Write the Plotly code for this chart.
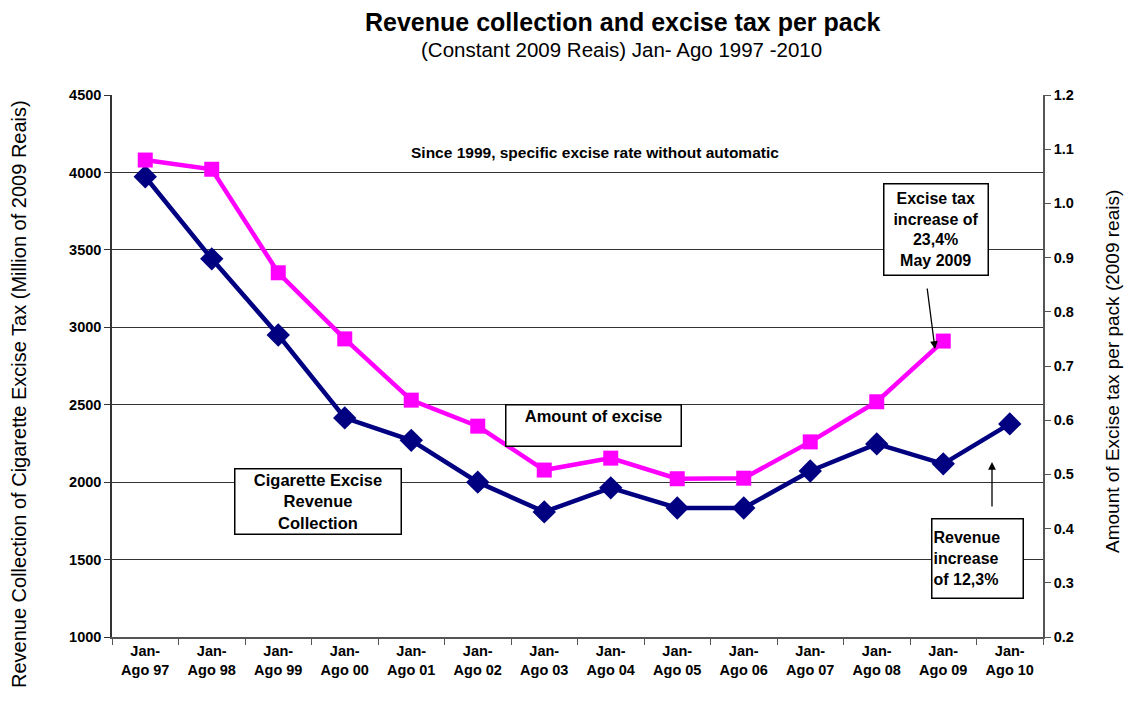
import plotly.graph_objects as go

categories = ["Jan-<br>Ago 97", "Jan-<br>Ago 98", "Jan-<br>Ago 99", "Jan-<br>Ago 00", "Jan-<br>Ago 01",
              "Jan-<br>Ago 02", "Jan-<br>Ago 03", "Jan-<br>Ago 04", "Jan-<br>Ago 05", "Jan-<br>Ago 06",
              "Jan-<br>Ago 07", "Jan-<br>Ago 08", "Jan-<br>Ago 09", "Jan-<br>Ago 10"]
revenue = [3972, 3442, 2950, 2415, 2270, 2000, 1808, 1963, 1833, 1833, 2072, 2247, 2118, 2376]
excise_per_pack = [1.080, 1.063, 0.872, 0.750, 0.637, 0.589, 0.508, 0.530, 0.492, 0.493, 0.560, 0.634, 0.746, None]

left_ticks = [1000, 1500, 2000, 2500, 3000, 3500, 4000, 4500]
right_ticks = [0.2, 0.3, 0.4, 0.5, 0.6, 0.7, 0.8, 0.9, 1.0, 1.1, 1.2]
right_tick_text = ["0.2", "0.3", "0.4", "0.5", "0.6", "0.7", "0.8", "0.9", "1.0", "1.1", "1.2"]

FONT = "Liberation Sans, Arial, sans-serif"
NAVY = "#000080"
MAGENTA = "#FF00FF"

fig = go.Figure()
fig.add_trace(go.Scatter(
    x=categories, y=revenue, mode="lines+markers",
    line=dict(color=NAVY, width=4.5),
    marker=dict(symbol="diamond", size=18, color=NAVY),
    name="Cigarette Excise Revenue Collection", yaxis="y"))
fig.add_trace(go.Scatter(
    x=categories, y=excise_per_pack, mode="lines+markers",
    line=dict(color=MAGENTA, width=4.5),
    marker=dict(symbol="square", size=15, color=MAGENTA),
    name="Amount of excise", yaxis="y2", connectgaps=False))

# page is shown with an 8px body margin; figure coords = screen coords - 8
OFF = 8
W, H = 1133 - OFF, 701 - OFF
PX0, PX1, PY0, PY1 = 112, 1043, 95, 637  # plot area in screen pixels
L, R, T, B = PX0 - OFF, W - (PX1 - OFF), PY0 - OFF, H - (PY1 - OFF)
PW = PX1 - PX0
PH = PY1 - PY0

def px(x):
    return (x - PX0) / PW

def py(y):
    return 1 - (y - PY0) / PH

annotations = [
    dict(text="<b>Revenue collection and excise tax per pack</b>", x=px(623), y=py(22),
         xref="paper", yref="paper", xanchor="center", yanchor="middle", showarrow=False,
         font=dict(size=25, family=FONT, color="black")),
    dict(text="(Constant 2009 Reais) Jan- Ago 1997 -2010", x=px(621), y=py(49),
         xref="paper", yref="paper", xanchor="center", yanchor="middle", showarrow=False,
         font=dict(size=20.5, family=FONT, color="black")),
    dict(text="Revenue Collection of Cigarette Excise Tax (Million of 2009 Reais)", x=px(19), y=py(394),
         xref="paper", yref="paper", xanchor="center", yanchor="middle", showarrow=False, textangle=-90,
         font=dict(size=20, family=FONT, color="black")),
    dict(text="Amount of Excise tax per pack (2009 reais)", x=px(1112), y=py(372),
         xref="paper", yref="paper", xanchor="center", yanchor="middle", showarrow=False, textangle=-90,
         font=dict(size=19, family=FONT, color="black")),
    dict(text="<b>Since 1999, specific excise rate without automatic</b>", x=px(595), y=py(152),
         xref="paper", yref="paper", xanchor="center", yanchor="middle", showarrow=False,
         font=dict(size=15.5, family=FONT, color="black")),
    dict(text="<b>Excise tax<br>increase of<br>23,4%<br>May 2009</b>", x=px(935.5), y=py(229),
         xref="paper", yref="paper", xanchor="center", yanchor="middle", showarrow=False,
         width=101, height=88, borderpad=1, bordercolor="black", borderwidth=1.5, bgcolor="white",
         font=dict(size=16, family=FONT, color="black")),
    dict(text="<b>Amount of excise</b>", x=px(593), y=py(425),
         xref="paper", yref="paper", xanchor="center", yanchor="middle", showarrow=False,
         width=172, height=38, borderpad=1, bordercolor="black", borderwidth=1.5, bgcolor="white",
         valign="top", font=dict(size=16.5, family=FONT, color="black")),
    dict(text="<b>Cigarette Excise<br>Revenue<br>Collection</b>", x=px(317.5), y=py(501),
         xref="paper", yref="paper", xanchor="center", yanchor="middle", showarrow=False,
         width=163, height=62, borderpad=1, bordercolor="black", borderwidth=1.5, bgcolor="white",
         font=dict(size=16.5, family=FONT, color="black")),
    dict(text="<b>Revenue<br>increase<br>of 12,3%</b>", x=px(977), y=py(558),
         xref="paper", yref="paper", xanchor="center", yanchor="middle", showarrow=False,
         width=88, height=76, borderpad=1, bordercolor="black", borderwidth=1.5, bgcolor="white",
         align="left", font=dict(size=16, family=FONT, color="black")),
    dict(text="", x=px(935), y=py(349), xref="paper", yref="paper", showarrow=True,
         ax=-8, ay=-62, arrowhead=2, arrowsize=1.2, arrowwidth=1.3, arrowcolor="black"),
    dict(text="", x=px(992), y=py(462), xref="paper", yref="paper", showarrow=True,
         ax=0, ay=46, arrowhead=2, arrowsize=1.2, arrowwidth=1.3, arrowcolor="black"),
]

tickfont = dict(size=14.5, family=FONT, color="black", weight="bold")

fig.update_layout(
    width=W, height=H,
    margin=dict(l=L, r=R, t=T, b=B),
    paper_bgcolor="white", plot_bgcolor="white",
    showlegend=False,
    font=dict(family=FONT, color="black"),
    xaxis=dict(
        type="category", range=[-0.5, 13.5],
        showgrid=False, showline=True, linecolor="#555555", linewidth=1.5,
        ticks="outside", ticklen=6, tickcolor="#555555", tickson="boundaries",
        tickfont=tickfont, zeroline=False,
    ),
    yaxis=dict(
        range=[1000, 4500], tickvals=left_ticks,
        showgrid=True, gridcolor="#333333", gridwidth=1,
        showline=True, linecolor="#333333", linewidth=1.5,
        ticks="outside", ticklen=6, tickcolor="#333333",
        tickfont=tickfont, zeroline=False,
    ),
    yaxis2=dict(
        range=[0.2, 1.2], tickvals=right_ticks, ticktext=right_tick_text,
        overlaying="y", side="right",
        showgrid=False, showline=True, linecolor="#555555", linewidth=1.5,
        ticks="outside", ticklen=6, tickcolor="#555555",
        tickfont=tickfont, zeroline=False,
    ),
    annotations=annotations,
)

fig.write_html("out.html")
